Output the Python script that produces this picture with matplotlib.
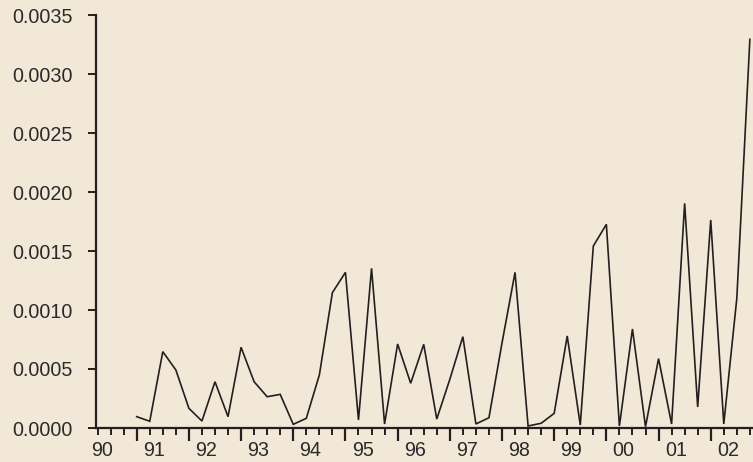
import matplotlib
matplotlib.use("Agg")
import matplotlib.pyplot as plt
import matplotlib.transforms as mtransforms
import numpy as np

# Quarterly observations 1991Q1 .. 2002Q4
start_year = 1991
values = [
    0.000096, 0.000057, 0.000647, 0.000492,   # 1991
    0.000167, 0.000059, 0.000392, 0.000096,   # 1992
    0.000684, 0.000392, 0.000265, 0.000285,   # 1993
    0.000031, 0.000082, 0.000449, 0.001147,   # 1994
    0.001319, 0.000068, 0.001353, 0.000034,   # 1995
    0.000712, 0.000379, 0.000709, 0.000076,   # 1996
    0.000412, 0.000774, 0.000034, 0.000087,   # 1997
    0.000720, 0.001319, 0.000017, 0.000040,   # 1998
    0.000124, 0.000780, 0.000025, 0.001542,   # 1999
    0.001726, 0.000017, 0.000839, 0.000011,   # 2000
    0.000588, 0.000034, 0.001904, 0.000178,   # 2001
    0.001763, 0.000034, 0.001100, 0.003294,   # 2002
]
year_labels = ["90", "91", "92", "93", "94", "95", "96", "97", "98", "99", "00", "01", "02"]
label_years = list(range(1990, 2003))
y_ticks = [0.0, 0.0005, 0.0010, 0.0015, 0.0020, 0.0025, 0.0030, 0.0035]

bg = "#F1E8D8"
ink = "#231F20"
text_col = "#2a2a2a"

x = start_year + np.arange(len(values)) / 4.0

fig = plt.figure(figsize=(7.53, 4.62), dpi=100, facecolor=bg)
ax = fig.add_axes([96 / 753, 1 - 428 / 462, (753 - 96) / 753, (428 - 15) / 462])
ax.set_facecolor(bg)

ax.plot(x, values, color=ink, linewidth=1.2, solid_joinstyle="miter")

ax.set_xlim(1990.22, 2002.81)
ax.set_ylim(0, 0.0035)

for s in ["top", "right"]:
    ax.spines[s].set_visible(False)
for s in ["left", "bottom"]:
    ax.spines[s].set_color(ink)
    ax.spines[s].set_linewidth(1.6)

ax.set_yticks(y_ticks)
ax.set_yticklabels([f"{v:.4f}" for v in y_ticks])
ax.tick_params(axis="y", direction="out", length=6, width=1.4, color=ink,
               labelsize=14.2, labelcolor=text_col, pad=10.5)

major = np.arange(1991, 2003)
minor = np.arange(1990.25, 2002.8, 0.25)
ax.set_xticks(major)
ax.set_xticklabels([])
ax.set_xticks(minor, minor=True)
ax.tick_params(axis="x", which="major", direction="out", length=9, width=1.6, color=ink)
ax.tick_params(axis="x", which="minor", direction="out", length=5, width=1.4, color=ink)

for lab in ax.get_yticklabels():
    lab.set_fontfamily("Liberation Sans")

trans = mtransforms.blended_transform_factory(ax.transData, fig.transFigure)
for yr, lab in zip(label_years, year_labels):
    ax.text(yr + 0.33, 1 - 450.5 / 462, lab, transform=trans, ha="center", va="center",
            fontsize=14.2, color=text_col, family="Liberation Sans")

fig.savefig("out.png", dpi=100, facecolor=bg)
